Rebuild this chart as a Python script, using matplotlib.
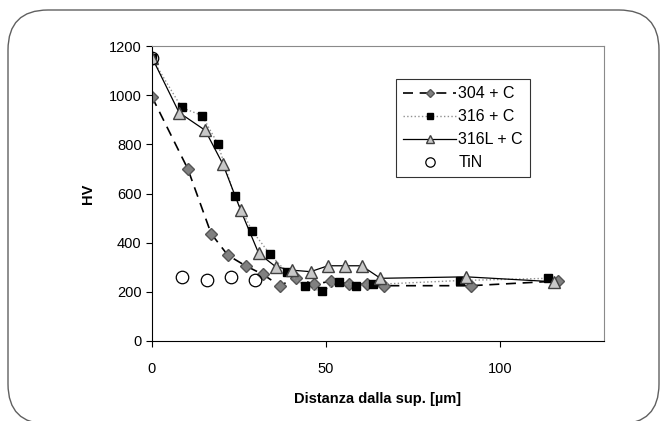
import matplotlib
matplotlib.use('Agg')
import matplotlib.pyplot as plt
from matplotlib.patches import FancyBboxPatch
from matplotlib.transforms import IdentityTransform

# ===================== DATI =====================
x_304 = [0, 10.3, 17.0, 21.8, 26.9, 31.9, 36.7, 41.5, 46.6, 51.6, 56.6, 61.7, 66.7, 91.8, 116.8]
hv_304 = [993, 700, 437, 349, 306, 271, 225, 257, 230, 244, 233, 230, 225, 225, 244]

x_316 = [0, 8.5, 14.4, 18.9, 23.8, 28.8, 33.9, 38.7, 43.9, 48.9, 53.9, 58.8, 63.7, 88.6, 113.9]
hv_316 = [1150, 950, 917, 803, 588, 448, 354, 280, 223, 202, 241, 225, 230, 246, 255]

x_316L = [0, 7.8, 15.3, 20.4, 25.5, 30.7, 35.6, 40.4, 45.6, 50.6, 55.6, 60.3, 65.7, 90.4, 115.7]
hv_316L = [1153, 929, 857, 719, 532, 356, 302, 288, 282, 306, 306, 306, 255, 261, 241]

x_tin = [0, 8.5, 15.8, 22.7, 29.7]
hv_tin = [1153, 261, 250, 261, 250]

labels = ['304 + C', '316 + C', '316L + C', 'TiN']
# ====================================================================

W, H = 662, 421
plt.rcParams['font.family'] = ['Liberation Sans', 'DejaVu Sans']

fig = plt.figure(figsize=(W / 100, H / 100), dpi=100)
ax = fig.add_axes([152 / W, 1 - 341 / H, (604 - 152) / W, (341 - 46) / H])

# cornice arrotondata (in pixel), il bordo inferiore esce dall'immagine
frame = FancyBboxPatch((8, -3), 651, H - 10 + 3,
                       boxstyle='round,pad=0,rounding_size=40',
                       transform=IdentityTransform(), fill=False,
                       edgecolor='#606060', linewidth=1.0, zorder=0)
fig.patches.append(frame)

ax.plot(x_304, hv_304, linestyle=(0, (6, 4)), color='black', linewidth=1.2,
        marker='D', markersize=6, markerfacecolor='#808080',
        markeredgecolor='#555555', label=labels[0])
ax.plot(x_316, hv_316, linestyle=':', color='#909090', linewidth=1.0,
        marker='s', markersize=5.5, markerfacecolor='black',
        markeredgecolor='black', label=labels[1])
ax.plot(x_316L, hv_316L, linestyle='-', color='black', linewidth=0.9,
        marker='^', markersize=8, markerfacecolor='#c8c8c8',
        markeredgecolor='#404040', label=labels[2])
ax.plot(x_tin, hv_tin, linestyle='none', marker='o', markersize=9,
        markerfacecolor='none', markeredgecolor='black', markeredgewidth=0.9,
        label=labels[3])

ax.set_xlim(0, 130)
ax.set_ylim(0, 1200)
ax.set_xticks([0, 50, 100])
ax.set_yticks(range(0, 1201, 200))
ax.tick_params(axis='both', labelsize=10.5, length=4, direction='out')
ax.tick_params(axis='x', pad=11)

for s in ['top', 'right']:
    ax.spines[s].set_color('#8a8a8a')
for s in ['left', 'bottom']:
    ax.spines[s].set_color('black')

ax.set_xlabel('Distanza dalla sup. [µm]', fontsize=10.5, fontweight='bold', labelpad=12)
ax.set_ylabel('HV', fontsize=10.5, fontweight='bold', labelpad=10)

leg = ax.legend(loc='upper left', bbox_to_anchor=((396 - 152) / 452, (341 - 79) / 295),
                fontsize=11.5, frameon=True, fancybox=False, handlelength=3.3,
                markerscale=0.75, borderpad=0.45, labelspacing=0.5,
                handletextpad=0.15, borderaxespad=0)
leg.get_frame().set_edgecolor('black')
leg.get_frame().set_linewidth(0.8)

fig.savefig('out.png', dpi=100)
